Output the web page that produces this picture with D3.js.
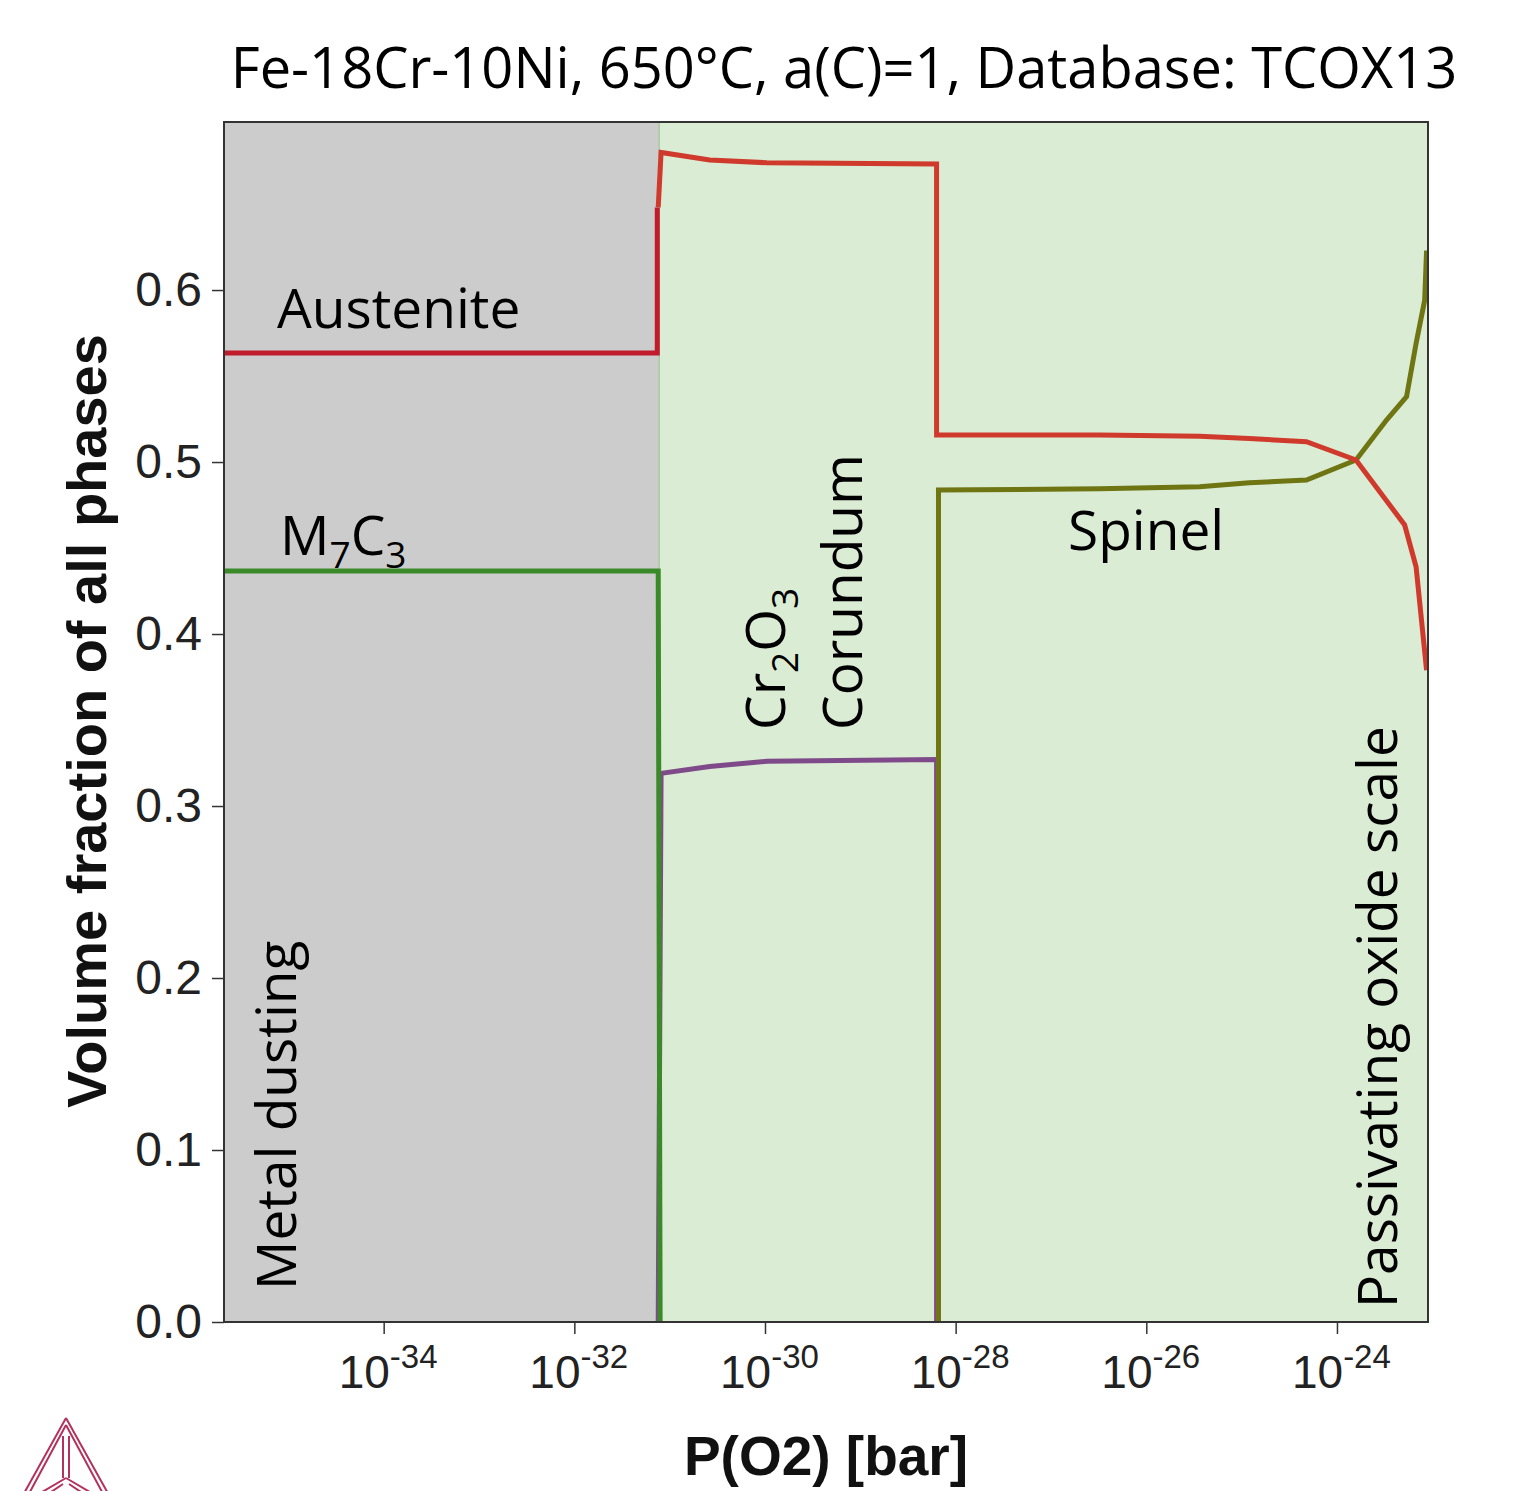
<html>
<head>
<style>
  body { margin: 0; background: #fff; }
</style>
</head>
<body>
<script src="https://d3js.org/d3.v7.min.js"></script>
<div id="my_dataviz"></div>
<script>
// log10 of P(O2) and volume fractions
var austeniteLg  = [-35.8, -31.13, -31.13];
var austeniteVal = [0.5634, 0.5634, 0.648];
var m7c3Lg  = [-35.8, -31.12, -31.10];
var m7c3Val = [0.4366, 0.4366, 0.0];
var redLg  = [-31.12, -31.09, -30.58, -29.98, -28.20, -28.20, -26.49, -25.44, -24.92, -24.32, -23.80, -23.29, -23.17, -23.06];
var redVal = [0.648, 0.680, 0.6756, 0.674, 0.6733, 0.5157, 0.5157, 0.5150, 0.5137, 0.5118, 0.5012, 0.4634, 0.4391, 0.379];
var corundumLg  = [-31.12, -31.09, -30.58, -29.98, -28.20, -28.20];
var corundumVal = [0.0, 0.319, 0.323, 0.326, 0.327, 0.0];
var spinelLg  = [-28.18, -28.18, -26.49, -25.44, -24.92, -24.32, -23.80, -23.48, -23.27, -23.17, -23.08, -23.06];
var spinelVal = [0.0, 0.4837, 0.4845, 0.4856, 0.4880, 0.4895, 0.5012, 0.5244, 0.538, 0.569, 0.594, 0.623];
var xTickExp = [-34, -32, -30, -28, -26, -24];
var yTicks = [0, 0.1, 0.2, 0.3, 0.4, 0.5, 0.6];
var regionLg = [-35.675, -31.11, -23.045];

var margin = {top: 122, right: 87, bottom: 169, left: 224},
    width = 1515 - margin.left - margin.right,
    height = 1491 - margin.top - margin.bottom;

var root = d3.select("#my_dataviz")
  .append("svg")
    .attr("width", 1515)
    .attr("height", 1491);

var svg = root.append("g")
    .attr("transform", "translate(" + margin.left + "," + margin.top + ")");

var x = d3.scaleLog()
  .domain([Math.pow(10, regionLg[0]), Math.pow(10, regionLg[2])])
  .range([0, width]);
var y = d3.scaleLinear()
  .domain([0, 0.6977])
  .range([height, 0]);

svg.append("clipPath").attr("id", "clip")
  .append("rect").attr("width", width).attr("height", height);

// background regions
svg.append("rect")
  .attr("x", 0).attr("y", 0)
  .attr("width", x(Math.pow(10, regionLg[1])))
  .attr("height", height)
  .attr("fill", "#cccccc");
svg.append("rect")
  .attr("x", x(Math.pow(10, regionLg[1])))
  .attr("y", 0)
  .attr("width", width - x(Math.pow(10, regionLg[1])))
  .attr("height", height)
  .attr("fill", "#dbecd5");
svg.append("line")
  .attr("x1", x(Math.pow(10, regionLg[1]))).attr("x2", x(Math.pow(10, regionLg[1])))
  .attr("y1", 0).attr("y2", height)
  .attr("stroke", "#a9c9a2").attr("stroke-width", 1.5);

var line = d3.line()
  .x(function(d) { return x(Math.pow(10, d[0])); })
  .y(function(d) { return y(d[1]); });

function drawSeries(lg, val, color) {
  svg.append("path")
    .datum(d3.zip(lg, val))
    .attr("clip-path", "url(#clip)")
    .attr("fill", "none")
    .attr("stroke", color)
    .attr("stroke-width", 5)
    .attr("stroke-linejoin", "miter")
    .attr("d", line);
}

drawSeries(corundumLg, corundumVal, "#7f4a8a");
drawSeries(austeniteLg, austeniteVal, "#c01c2b");
drawSeries(m7c3Lg, m7c3Val, "#3b8a2a");
drawSeries(spinelLg, spinelVal, "#6e7512");
drawSeries(redLg, redVal, "#cf3a2c");

// frame
svg.append("rect")
  .attr("width", width).attr("height", height)
  .attr("fill", "none").attr("stroke", "#333").attr("stroke-width", 2);

// axes
var yAxis = svg.append("g")
  .call(d3.axisLeft(y).tickValues(yTicks).tickSize(12).tickPadding(10).tickFormat(d3.format(".1f")));
yAxis.select(".domain").remove();
yAxis.selectAll("line").attr("stroke", "#333").attr("stroke-width", 1.5);
yAxis.selectAll("text")
  .style("font-family", "'Liberation Sans', Arial, sans-serif")
  .style("font-size", "48px")
  .attr("fill", "#222");

var xAxis = svg.append("g")
  .attr("transform", "translate(0," + height + ")")
  .call(d3.axisBottom(x).tickValues(xTickExp.map(function(e) { return Math.pow(10, e); })).tickSize(12).tickFormat(""));
xAxis.select(".domain").remove();
xAxis.selectAll("line").attr("stroke", "#333").attr("stroke-width", 1.5);

var xl = svg.append("g").selectAll("text")
  .data(xTickExp)
  .enter()
  .append("text")
    .attr("x", function(d) { return x(Math.pow(10, d)) - 45; })
    .attr("y", height + 66)
    .style("font-family", "'Liberation Sans', Arial, sans-serif")
    .attr("fill", "#222");
xl.append("tspan").style("font-size", "46px").text("10");
xl.append("tspan").style("font-size", "33px").attr("dy", -20).text(function(d) { return "-" + Math.abs(d); });

// axis titles
root.append("text")
  .attr("transform", "translate(106,721)rotate(-90)")
  .attr("text-anchor", "middle")
  .style("font-family", "'Liberation Sans', Arial, sans-serif")
  .style("font-weight", "bold")
  .style("font-size", "56px")
  .attr("fill", "#111")
  .text("Volume fraction of all phases");
root.append("text")
  .attr("x", 826).attr("y", 1475)
  .attr("text-anchor", "middle")
  .style("font-family", "'Liberation Sans', Arial, sans-serif")
  .style("font-weight", "bold")
  .style("font-size", "55px")
  .attr("fill", "#111")
  .text("P(O2) [bar]");

// title
root.append("text")
  .attr("x", 844).attr("y", 88)
  .attr("text-anchor", "middle")
  .style("font-family", "'Open Sans', sans-serif")
  .style("font-size", "56px")
  .attr("fill", "#000")
  .text("Fe-18Cr-10Ni, 650°C, a(C)=1, Database: TCOX13");

// annotations
var ann = root.append("g")
  .style("font-family", "'Open Sans', sans-serif")
  .style("font-size", "55px")
  .attr("fill", "#000");
ann.append("text").attr("x", 277).attr("y", 328).text("Austenite");
var m = ann.append("text").attr("x", 280).attr("y", 555);
m.append("tspan").text("M");
m.append("tspan").attr("dy", 13).style("font-size", "37px").text("7");
m.append("tspan").attr("dy", -13).text("C");
m.append("tspan").attr("dy", 13).style("font-size", "37px").text("3");
ann.append("text").attr("x", 1068).attr("y", 550).text("Spinel");
var cr = ann.append("text").attr("transform", "translate(785,730)rotate(-90)");
cr.append("tspan").text("Cr");
cr.append("tspan").attr("dy", 13).style("font-size", "37px").text("2");
cr.append("tspan").attr("dy", -13).text("O");
cr.append("tspan").attr("dy", 13).style("font-size", "37px").text("3");
ann.append("text").attr("transform", "translate(862,730)rotate(-90)").text("Corundum");
ann.append("text").attr("transform", "translate(296,1290)rotate(-90)").text("Metal dusting");
ann.append("text").attr("transform", "translate(1397,1308)rotate(-90)").text("Passivating oxide scale");

// logo fragment, bottom left
var logo = root.append("g")
  .attr("fill", "none")
  .attr("stroke", "#b3315d")
  .attr("stroke-width", 2);
var apex = [66, 1418], bl = [-2, 1540], br = [134, 1540], mid = [66, 1478];
function seg(a, b) { logo.append("line").attr("x1", a[0]).attr("y1", a[1]).attr("x2", b[0]).attr("y2", b[1]); }
seg(apex, bl); seg([66, 1425], [4, 1540]);
seg(apex, br); seg([66, 1425], [128, 1540]);
seg([63, 1436], [63, 1478]); seg([69, 1436], [69, 1478]);
seg(mid, [20, 1505]); seg(mid, [112, 1505]);
seg([63, 1484], [24, 1510]); seg([69, 1484], [108, 1510]);
</script>
</body>
</html>
